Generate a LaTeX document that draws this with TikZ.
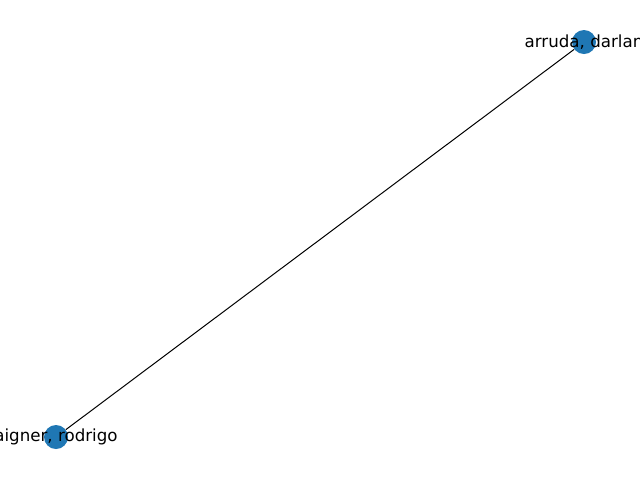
\documentclass[tikz,border=0pt]{standalone}
\usepackage{fontspec}
\setmainfont{DejaVu Sans}
\definecolor{nodeblue}{HTML}{1F77B4}
\begin{document}
\begin{tikzpicture}[x=0.75pt,y=-0.75pt,
  vertex/.style={circle,fill=nodeblue,draw=none,minimum size=18pt,inner sep=0pt},
  lbl/.style={font=\fontsize{12.5}{15}\selectfont,inner sep=0pt,text=black},
  edge/.style={draw=black,line width=0.75pt}]
\clip (0,0) rectangle (640,480);
\fill[white] (0,0) rectangle (640,480);
\node[vertex] (a) at (584,42) {};
\node[vertex] (b) at (56,437) {};
\draw[edge] (a) -- (b);
\node[lbl] (la) at (584,42) {arruda, darlan};
\node[lbl] (lb) at (56,437) {aigner, rodrigo};
\end{tikzpicture}
\end{document}
